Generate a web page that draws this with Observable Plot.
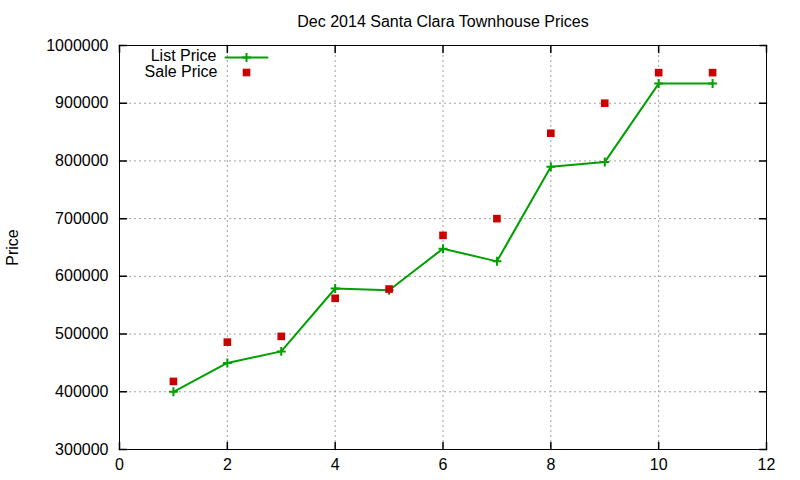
<!DOCTYPE html>
<html>
<head>
<meta charset="utf-8">
<script src="https://cdn.jsdelivr.net/npm/d3@7"></script>
<script src="https://cdn.jsdelivr.net/npm/@observablehq/plot@0.6"></script>
<style>
  html, body { margin: 0; padding: 0; background: #fff; }
  #chart svg { display: block; }
</style>
</head>
<body>
<div id="chart"></div>
<script>
const title = "Dec 2014 Santa Clara Townhouse Prices";
const yLabel = "Price";
const seriesNames = ["List Price", "Sale Price"];
const homes = [1, 2, 3, 4, 5, 6, 7, 8, 9, 10, 11];
const listPrice = [400000, 450000, 470000, 579000, 576000, 648000, 626000, 790000, 798000, 934000, 934000];
const salePrice = [418000, 486000, 496000, 562000, 578000, 671000, 700000, 848000, 900000, 953000, 953000];
const xTicks = [0, 2, 4, 6, 8, 10, 12];
const yTicks = [300000, 400000, 500000, 600000, 700000, 800000, 900000, 1000000];

const green = "#00a000";
const red = "#cc0000";

const listData = homes.map((h, i) => ({x: h, y: listPrice[i]}));
const saleData = homes.map((h, i) => ({x: h, y: salePrice[i]}));

const tickShape = {draw(context, l) { context.moveTo(0, 0); context.lineTo(0, -l); }};

const chart = Plot.plot({
  width: 800,
  height: 480,
  marginTop: 45,
  marginBottom: 31,
  marginLeft: 119,
  marginRight: 34,
  style: {fontFamily: "'Liberation Sans', Arial, sans-serif", fontSize: "16px", color: "black", background: "white"},
  x: {domain: [0, 12]},
  y: {domain: [300000, 1000000]},
  marks: [
    Plot.gridX(xTicks, {stroke: "#a0a0a0", strokeOpacity: 1, strokeDasharray: "2,3"}),
    Plot.gridY(yTicks, {stroke: "#a0a0a0", strokeOpacity: 1, strokeDasharray: "2,3"}),
    Plot.axisX({ticks: xTicks, tickSize: 0, tickPadding: 9, label: null, fontSize: 16}),
    Plot.axisY({ticks: yTicks, tickSize: 0, tickPadding: 11, label: null, fontSize: 16, tickFormat: d => String(d)}),
    // inward mirrored tick marks
    Plot.vector(yTicks, {y: d => d, frameAnchor: "left", rotate: 90, length: 7, anchor: "start", shape: tickShape, stroke: "black"}),
    Plot.vector(yTicks, {y: d => d, frameAnchor: "right", rotate: -90, length: 7, anchor: "start", shape: tickShape, stroke: "black"}),
    Plot.vector(xTicks, {x: d => d, frameAnchor: "bottom", rotate: 0, length: 7, anchor: "start", shape: tickShape, stroke: "black"}),
    Plot.vector(xTicks, {x: d => d, frameAnchor: "top", rotate: 180, length: 7, anchor: "start", shape: tickShape, stroke: "black"}),
    Plot.frame({stroke: "black", strokeWidth: 1}),
    // data
    Plot.line(listData, {x: "x", y: "y", stroke: green, strokeWidth: 2}),
    Plot.dot(listData, {x: "x", y: "y", symbol: "plus", r: 3, stroke: green, strokeWidth: 2}),
    Plot.dot(saleData, {x: "x", y: "y", symbol: "square", r: 4.3, fill: red, stroke: null}),
    // legend
    Plot.text([seriesNames[0]], {frameAnchor: "top-left", dx: 97, dy: 10, textAnchor: "end", lineAnchor: "middle", fontSize: 16, fill: "black"}),
    Plot.text([seriesNames[1]], {frameAnchor: "top-left", dx: 98, dy: 26, textAnchor: "end", lineAnchor: "middle", fontSize: 16, fill: "black"}),
    Plot.vector([0], {frameAnchor: "top-left", dx: 106, dy: 12, rotate: 90, length: 42, anchor: "start", shape: tickShape, stroke: green, strokeWidth: 2}),
    Plot.dot([0], {frameAnchor: "top-left", dx: 127, dy: 12, symbol: "plus", r: 3, stroke: green, strokeWidth: 2}),
    Plot.dot([0], {frameAnchor: "top-left", dx: 127, dy: 27, symbol: "square", r: 4.3, fill: red, stroke: null}),
    // title and y label
    Plot.text([title], {frameAnchor: "top", dy: -24, lineAnchor: "middle", fontSize: 16, fill: "black"}),
    Plot.text([yLabel], {frameAnchor: "left", dx: -107, rotate: -90, textAnchor: "middle", lineAnchor: "middle", fontSize: 16, fill: "black"})
  ]
});
document.getElementById("chart").appendChild(chart);
</script>
</body>
</html>
